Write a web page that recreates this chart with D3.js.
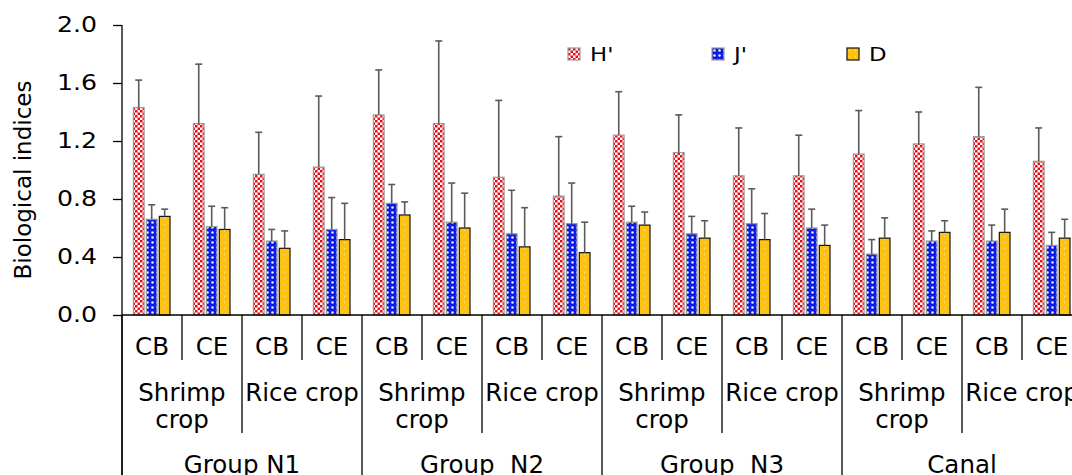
<!DOCTYPE html>
<html>
<head>
<meta charset="utf-8">
<script src="https://cdn.jsdelivr.net/npm/d3@7"></script>
<style>
    body { margin: 0; background: #fff; }
    svg { display: block; font-family: "DejaVu Sans", Verdana, sans-serif; }
    .lbl { white-space: pre; }
</style>
</head>
<body>
<div id="chart"></div>
<script>
// Categories (site / crop / group)
let sites = ["CB", "CE"];
let cropLines = [["Shrimp", "crop"], ["Rice crop"]];
let groups = ["Group N1", "Group  N2", "Group  N3", "Canal"];
let seriesNames = ["H'", "J'", "D"];

// Values, one per bar (16 bars per series)
let hValues = [1.43, 1.32, 0.97, 1.02, 1.38, 1.32, 0.95, 0.82, 1.24, 1.12, 0.96, 0.96, 1.11, 1.18, 1.23, 1.06];
let hSd     = [0.19, 0.41, 0.29, 0.49, 0.31, 0.57, 0.53, 0.41, 0.30, 0.26, 0.33, 0.28, 0.30, 0.22, 0.34, 0.23];
let jValues = [0.66, 0.61, 0.51, 0.59, 0.77, 0.64, 0.56, 0.63, 0.64, 0.56, 0.63, 0.60, 0.42, 0.51, 0.51, 0.48];
let jSd     = [0.10, 0.14, 0.08, 0.22, 0.13, 0.27, 0.30, 0.28, 0.11, 0.12, 0.24, 0.13, 0.10, 0.07, 0.11, 0.09];
let dValues = [0.68, 0.59, 0.46, 0.52, 0.69, 0.60, 0.47, 0.43, 0.62, 0.53, 0.52, 0.48, 0.53, 0.57, 0.57, 0.53];
let dSd     = [0.05, 0.15, 0.12, 0.25, 0.09, 0.24, 0.27, 0.21, 0.09, 0.12, 0.18, 0.14, 0.14, 0.08, 0.16, 0.13];

let yTicks = [0, 0.4, 0.8, 1.2, 1.6, 2.0];

// build bar table
let cats = [];
groups.forEach((g, gi) => {
    cropLines.forEach((c, ci) => {
        sites.forEach((s, si) => {
            cats.push({ id: cats.length, group: gi, crop: ci, site: s });
        });
    });
});
let values = [hValues, jValues, dValues];
let sds = [hSd, jSd, dSd];
let bars = [];
cats.forEach(c => {
    seriesNames.forEach((s, k) => {
        bars.push({ cat: c.id, series: s, k: k, value: values[k][c.id], sd: sds[k][c.id] });
    });
});

let W = 1072, H = 475;
let margin = { top: 25, left: 122 };
let plotBottom = 315;
let catWidth = 60;
let plotRight = margin.left + catWidth * cats.length;   // runs past the right edge, like the original
let stretch = 1.2;   // the original's text is a bit wider than DejaVu

let svg = d3.select("#chart").append("svg")
    .attr("width", W)
    .attr("height", H);

// Fill patterns
let defs = svg.append("defs");

// H': red dots on white
let pH = defs.append("pattern").attr("id", "patH")
    .attr("patternUnits", "userSpaceOnUse").attr("width", 5).attr("height", 5);
pH.append("rect").attr("width", 5).attr("height", 5).attr("fill", "#fff");
pH.append("rect").attr("x", 0).attr("y", 0).attr("width", 2.5).attr("height", 2.5).attr("fill", "#e0101a");
pH.append("rect").attr("x", 2.5).attr("y", 2.5).attr("width", 2.5).attr("height", 2.5).attr("fill", "#e0101a");

// J': blue with white spots
let pJ = defs.append("pattern").attr("id", "patJ")
    .attr("patternUnits", "userSpaceOnUse").attr("width", 5).attr("height", 5);
pJ.append("rect").attr("width", 5).attr("height", 5).attr("fill", "#0818e8");
pJ.append("circle").attr("cx", 2.5).attr("cy", 2.5).attr("r", 1.3).attr("fill", "#e8ecff");
pJ.append("circle").attr("cx", 0).attr("cy", 0).attr("r", 0.7).attr("fill", "#8890ff");

// D: gold with faint dots
let pD = defs.append("pattern").attr("id", "patD")
    .attr("patternUnits", "userSpaceOnUse").attr("width", 6).attr("height", 6);
pD.append("rect").attr("width", 6).attr("height", 6).attr("fill", "#ffc20e");
pD.append("rect").attr("x", 2).attr("y", 2).attr("width", 1).attr("height", 1).attr("fill", "#ffe9a0");

let fills = { "H'": "url(#patH)", "J'": "url(#patJ)", "D": "url(#patD)" };
let strokes = { "H'": "#9a9a9a", "J'": "#9a9a9a", "D": "#111" };

// Scales
let y = d3.scaleLinear().domain([0, 2]).range([plotBottom, margin.top]);
let x0 = d3.scaleBand().domain(cats.map(c => c.id)).range([margin.left, plotRight]).padding(0);
let x1 = d3.scaleBand().domain(seriesNames)
    .range([catWidth * 0.19, catWidth * 0.8]).paddingInner(0.175);

// Y axis
let yAxis = d3.axisLeft(y).tickValues(yTicks).tickFormat(d3.format(".1f"))
    .tickSize(9).tickSizeOuter(0);
let yG = svg.append("g").attr("transform", `translate(${margin.left},0)`).call(yAxis);
yG.select(".domain").remove();
yG.selectAll(".tick line").attr("stroke", "#000").attr("stroke-width", 1.3);
yG.selectAll(".tick text")
    .attr("x", -25 / stretch)
    .attr("transform", `scale(${stretch},1)`)
    .attr("font-size", 21).attr("fill", "#000")
    .attr("font-family", "DejaVu Sans");

svg.append("text")
    .attr("transform", `translate(31, 180) rotate(-90)`)
    .attr("text-anchor", "middle")
    .attr("font-size", 23)
    .text("Biological indices");

// Bars
svg.append("g").selectAll("rect")
    .data(bars)
    .enter()
    .append("rect")
    .attr("x", d => x0(d.cat) + x1(d.series))
    .attr("y", d => y(d.value))
    .attr("width", x1.bandwidth())
    .attr("height", d => y(0) - y(d.value))
    .attr("fill", d => fills[d.series])
    .attr("stroke", d => strokes[d.series])
    .attr("stroke-width", 1.2);

// Error bars (upper only)
let eb = svg.append("g").attr("stroke", "#5a5a5a").attr("stroke-width", 1.6);
eb.selectAll("line.v").data(bars).enter().append("line")
    .attr("class", "v")
    .attr("x1", d => x0(d.cat) + x1(d.series) + x1.bandwidth() / 2)
    .attr("x2", d => x0(d.cat) + x1(d.series) + x1.bandwidth() / 2)
    .attr("y1", d => y(d.value))
    .attr("y2", d => y(d.value + d.sd));
eb.selectAll("line.c").data(bars).enter().append("line")
    .attr("class", "c")
    .attr("x1", d => x0(d.cat) + x1(d.series) + x1.bandwidth() / 2 - 3.5)
    .attr("x2", d => x0(d.cat) + x1(d.series) + x1.bandwidth() / 2 + 3.5)
    .attr("y1", d => y(d.value + d.sd))
    .attr("y2", d => y(d.value + d.sd));

// Axis lines
svg.append("line").attr("x1", margin.left).attr("x2", margin.left)
    .attr("y1", margin.top).attr("y2", H)
    .attr("stroke", "#000").attr("stroke-width", 1.3);
svg.append("line").attr("x1", margin.left).attr("x2", plotRight)
    .attr("y1", plotBottom).attr("y2", plotBottom)
    .attr("stroke", "#000").attr("stroke-width", 1.3);

// Multi-level category labels
let lab = svg.append("g").attr("font-size", 24.5).attr("text-anchor", "middle").attr("fill", "#000");

// level 1: CB / CE
lab.selectAll("text.site").data(cats).enter().append("text")
    .attr("class", "site")
    .attr("x", d => x0(d.id) + x0.bandwidth() / 2)
    .attr("y", 355)
    .text(d => d.site);
svg.selectAll("line.l1").data(cats.filter(c => sites.indexOf(c.site) > 0)).enter().append("line")
    .attr("class", "l1")
    .attr("x1", d => x0(d.id)).attr("x2", d => x0(d.id))
    .attr("y1", plotBottom).attr("y2", 360)
    .attr("stroke", "#000").attr("stroke-width", 1.3);

// level 2: crop
let pairs = cats.filter(c => c.site === sites[0]);
pairs.forEach(p => {
    let cx = x0(p.id) + x0.bandwidth();
    cropLines[p.crop].forEach((ln, i) => {
        lab.append("text").attr("class", "lbl")
            .attr("x", cx).attr("y", 401 + i * 27)
            .text(ln);
    });
    if (p.crop > 0) {
        svg.append("line").attr("x1", x0(p.id)).attr("x2", x0(p.id))
            .attr("y1", plotBottom).attr("y2", 433)
            .attr("stroke", "#000").attr("stroke-width", 1.3);
    }
});

// level 3: group
let groupStarts = cats.filter(c => c.crop === 0 && c.site === sites[0]);
groupStarts.forEach(g => {
    let gw = x0.bandwidth() * 4;
    lab.append("text").attr("class", "lbl")
        .attr("x", x0(g.id) + gw / 2).attr("y", 473)
        .text(groups[g.group]);
    svg.append("line").attr("x1", x0(g.id)).attr("x2", x0(g.id))
        .attr("y1", plotBottom).attr("y2", H)
        .attr("stroke", "#000").attr("stroke-width", 1.3);
});

// Legend
let legendX = [568, 712, 847];
let legend = svg.append("g").selectAll("g").data(seriesNames).enter().append("g")
    .attr("transform", (d, i) => `translate(${legendX[i]}, 48)`);
legend.append("rect")
    .attr("width", 12).attr("height", 12)
    .attr("fill", d => fills[d])
    .attr("stroke", d => strokes[d]).attr("stroke-width", 1.2);
legend.append("text")
    .attr("transform", `translate(22, 13) scale(${stretch},1)`)
    .attr("font-size", 19)
    .text(d => d);
</script>
</body>
</html>
